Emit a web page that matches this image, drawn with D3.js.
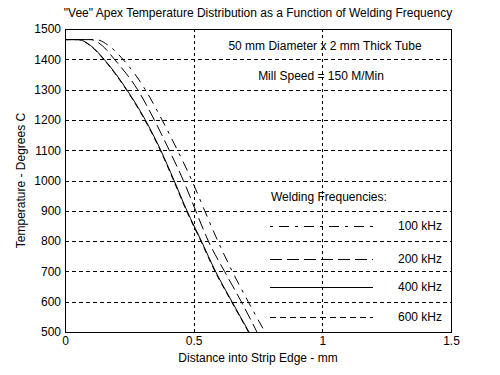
<!DOCTYPE html>
<html>
<head>
<meta charset="utf-8">
<script src="https://cdn.jsdelivr.net/npm/d3@7"></script>
<style>
  html, body { margin: 0; padding: 0; background: #fff; }
  svg text { font-family: "Liberation Sans", Arial, sans-serif; font-size: 12px; fill: #000; }
</style>
</head>
<body>
<div id="chart"></div>
<script>
// temperature levels the curves were read at (deg C)
const tempLevels = [1465, 1465, 1445, 1400, 1300, 1200, 1100, 1000, 900, 800, 700, 600, 500];

// distance (mm) where each curve reaches the matching temperature level
const dist100 = [0, 0.12, 0.17, 0.225, 0.312, 0.377, 0.437, 0.493, 0.543, 0.594, 0.65, 0.712, 0.777];
const dist200 = [0, 0.10, 0.145, 0.192, 0.282, 0.347, 0.405, 0.46, 0.508, 0.557, 0.62, 0.685, 0.746];
const dist400 = [0, 0.05, 0.10, 0.152, 0.24, 0.312, 0.372, 0.424, 0.474, 0.53, 0.585, 0.649, 0.715];
const dist600 = [0, 0.05, 0.098, 0.15, 0.238, 0.31, 0.37, 0.422, 0.472, 0.528, 0.583, 0.647, 0.713];

const seriesNames = ["100 kHz", "200 kHz", "400 kHz", "600 kHz"];
const xTicks = [0, 0.5, 1, 1.5];
const yTicks = [500, 600, 700, 800, 900, 1000, 1100, 1200, 1300, 1400, 1500];

const width = 500, height = 375;
const plot = { left: 65, right: 451, top: 29, bottom: 332 };

const dashes = ["3,6,10,6", "12,5", null, "6,4"];

const svg = d3.select("#chart").append("svg")
  .attr("width", width)
  .attr("height", height);

svg.append("rect").attr("width", width).attr("height", height).attr("fill", "#fff");

const x = d3.scaleLinear().domain([0, 1.5]).range([plot.left, plot.right]);
const y = d3.scaleLinear().domain([500, 1500]).range([plot.bottom, plot.top]);

// grid
const grid = svg.append("g").attr("stroke", "#000").attr("stroke-width", 1).attr("shape-rendering", "crispEdges");
yTicks.slice(1, -1).forEach(t => {
  grid.append("line")
    .attr("x1", plot.left).attr("x2", plot.right)
    .attr("y1", Math.round(y(t)) + 0.5).attr("y2", Math.round(y(t)) + 0.5)
    .attr("stroke-dasharray", "4,3");
});
xTicks.slice(1, -1).forEach(t => {
  grid.append("line")
    .attr("x1", Math.round(x(t)) + 0.5).attr("x2", Math.round(x(t)) + 0.5)
    .attr("y1", plot.top).attr("y2", plot.bottom)
    .attr("stroke-dasharray", "3,3");
});

// axes
const xAxis = d3.axisBottom(x).tickValues(xTicks).tickSize(0).tickPadding(4).tickFormat(d3.format("~g"));
const yAxis = d3.axisLeft(y).tickValues(yTicks).tickSize(0).tickPadding(4).tickFormat(d3.format("d"));

const gx = svg.append("g").attr("transform", `translate(0,${plot.bottom})`).call(xAxis);
const gy = svg.append("g").attr("transform", `translate(${plot.left},0)`).call(yAxis);
[gx, gy].forEach(g => {
  g.select(".domain").remove();
  g.selectAll("text").attr("font-family", null).attr("font-size", null);
});

// frame
svg.append("rect")
  .attr("x", plot.left + 0.5).attr("y", plot.top + 0.5)
  .attr("width", plot.right - plot.left).attr("height", plot.bottom - plot.top)
  .attr("fill", "none").attr("stroke", "#000").attr("shape-rendering", "crispEdges");

// curves
const line = d3.line()
  .x(d => x(d[0]))
  .y(d => y(d[1]))
  .curve(d3.curveMonotoneX);

const allDist = [dist100, dist200, dist400, dist600];
allDist.forEach((dist, i) => {
  const pts = dist.map((d, j) => [d, tempLevels[j]]);
  svg.append("path")
    .attr("d", line(pts))
    .attr("fill", "none")
    .attr("stroke", "#000")
    .attr("stroke-width", 1)
    .attr("stroke-dasharray", dashes[i]);
});

// notes
svg.append("text").attr("x", 325).attr("y", 50).attr("text-anchor", "middle")
  .text("50 mm Diameter x 2 mm Thick Tube");
svg.append("text").attr("x", 321).attr("y", 80).attr("text-anchor", "middle")
  .text("Mill Speed = 150 M/Min");

// legend
svg.append("text").attr("x", 271).attr("y", 201).text("Welding Frequencies:");
const legendY = [226, 259, 287, 317];
seriesNames.forEach((name, i) => {
  svg.append("line")
    .attr("x1", 270).attr("x2", 373)
    .attr("y1", legendY[i] + 0.5).attr("y2", legendY[i] + 0.5)
    .attr("stroke", "#000").attr("stroke-dasharray", dashes[i]);
  svg.append("text").attr("x", 398).attr("y", legendY[i] + 4).text(name);
});

// titles
svg.append("text").attr("x", 258).attr("y", 17).attr("text-anchor", "middle")
  .text("\"Vee\" Apex Temperature Distribution as a Function of Welding Frequency");
svg.append("text").attr("x", 258).attr("y", 362).attr("text-anchor", "middle")
  .text("Distance into Strip Edge - mm");
svg.append("text")
  .attr("transform", `translate(25,${(plot.top + plot.bottom) / 2}) rotate(-90)`)
  .attr("text-anchor", "middle")
  .text("Temperature - Degrees C");
</script>
</body>
</html>
